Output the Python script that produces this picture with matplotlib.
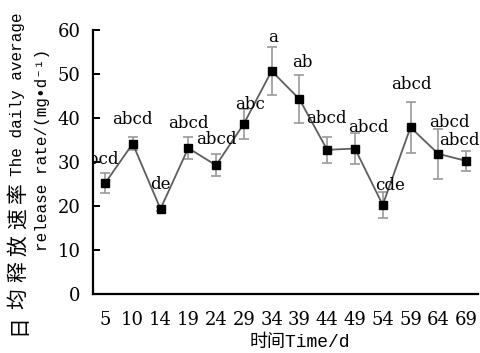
import matplotlib
matplotlib.use("Agg")
import matplotlib.pyplot as plt
import numpy as np

# Sampling days and mean daily release rate with standard deviation
days = ["5", "10", "14", "19", "24", "29", "34", "39", "44", "49", "54", "59", "64", "69"]
rate = [25.1, 34.1, 19.3, 33.1, 29.2, 38.6, 50.6, 44.2, 32.7, 33.0, 20.2, 37.8, 31.8, 30.2]
err = [2.3, 1.5, 0.5, 2.5, 2.5, 3.4, 5.5, 5.5, 3.0, 3.5, 3.0, 5.8, 5.7, 2.2]
letters = ["abcd", "abcd", "de", "abcd", "abcd", "abc", "a", "ab",
           "abcd", "abcd", "cde", "abcd", "abcd", "abcd"]

# label offsets (pixels) relative to each point
label_dx = [-7, 0, 0, 0, 0, 6, 1, 3, -1, 13, 7, 1, 11, -7]
label_dy = [24, 24, 24, 25, 26, 19, 33, 37, 31, 21, 19, 43, 31, 20]

W, H = 480, 353
fig = plt.figure(figsize=(W / 100, H / 100), dpi=100)
ax = fig.add_axes([93 / W, 1 - 294 / H, (478 - 93) / W, (294 - 29.5) / H])

x = np.arange(len(days))
ax.errorbar(x, rate, yerr=err, fmt="none", ecolor="#9a9a9a", elinewidth=1.2,
            capsize=3.6, capthick=1.2, zorder=1)
ax.plot(x, rate, color="#5e5e5e", lw=1.3, marker="s", ms=6,
        mfc="black", mec="black", zorder=2)

serif = "DejaVu Serif"
for i, (lab, v) in enumerate(zip(letters, rate)):
    ann = ax.annotate(lab, (x[i], v), xytext=(label_dx[i], label_dy[i]),
                      textcoords="offset pixels", ha="center", va="center",
                      fontsize=12, family=serif, color="black", zorder=3)
    if i == 0:
        ann.set_clip_path(ax.patch)

ax.set_xlim(-0.43, len(days) - 1 + 0.43)
ax.set_ylim(0, 60)
ax.set_yticks(range(0, 61, 10))
ax.set_xticks(x)
ax.set_xticklabels(days)

for s in ["top", "right"]:
    ax.spines[s].set_visible(False)
for s in ["left", "bottom"]:
    ax.spines[s].set_linewidth(1.6)
    ax.spines[s].set_color("black")

ax.tick_params(axis="y", direction="in", length=5, width=1.4, pad=9,
               labelsize=13)
ax.tick_params(axis="x", length=0, pad=12, labelsize=13)
for t in ax.get_xticklabels() + ax.get_yticklabels():
    t.set_family(serif)

mono_cjk = ["Liberation Mono", "DejaVu Sans Mono", "Noto Sans CJK SC"]

# x-axis title
fig.text(300 / W, 1 - 343 / H, "时间Time/d", ha="center", va="center",
         fontsize=13, family=mono_cjk)

# y-axis title, first line: Chinese characters spaced out, then English
cjk_title = "日均释放速率"
for k, ch in enumerate(cjk_title):
    yc = 325 - 26.5 * k
    fig.text(18 / W, 1 - yc / H, ch, rotation=90, ha="center", va="center",
             fontsize=15, family=["Noto Sans CJK SC"])
fig.text(18 / W, 1 - 94 / H, "The daily average", rotation=90,
         ha="center", va="center", fontsize=11.5, family=mono_cjk)
# second line
fig.text(43 / W, 1 - 150 / H, "release rate/(mg•d⁻¹)", rotation=90,
         ha="center", va="center", fontsize=11.5, family=mono_cjk)

fig.savefig("out.png", dpi=100)
